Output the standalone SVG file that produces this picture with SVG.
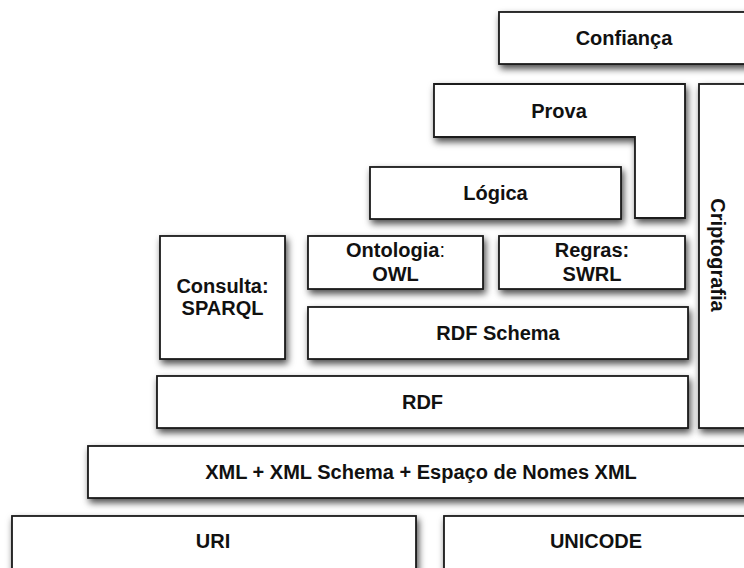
<svg xmlns="http://www.w3.org/2000/svg" width="744" height="568" viewBox="0 0 744 568">
<defs>
<filter id="sh" x="-10%" y="-20%" width="130%" height="160%">
<feDropShadow dx="2" dy="4" stdDeviation="3.5" flood-color="#000" flood-opacity="0.7"/>
</filter>
<style>
.b{fill:#fff;stroke:#1a1a1a;stroke-width:1.8;filter:url(#sh)}
.t{font-family:"Liberation Sans",Arial,Helvetica,sans-serif;font-weight:bold;font-size:20px;fill:#111;text-anchor:middle}
.n{font-weight:normal}
</style>
</defs>
<rect width="744" height="568" fill="#fff"/>
<g id="confianca"><rect class="b" x="499" y="12" width="261" height="52"/><text class="t" x="624" y="45">Confiança</text></g>
<g id="prova"><path class="b" d="M434,84 H685 V218 H635 V137 H434 Z"/><text class="t" x="559" y="118">Prova</text></g>
<g id="criptografia"><rect class="b" x="699" y="84" width="61" height="344"/><text class="t" transform="translate(711,255) rotate(90)" x="0" y="0">Criptografia</text></g>
<g id="logica"><rect class="b" x="370" y="167" width="251" height="52"/><text class="t" x="495.5" y="200">Lógica</text></g>
<g id="consulta"><rect class="b" x="160" y="236" width="125" height="123"/><text class="t" x="222.5" y="293">Consulta:</text><text class="t" x="222.5" y="315">SPARQL</text></g>
<g id="ontologia"><rect class="b" x="308" y="236" width="175" height="53"/><text class="t" x="395.5" y="257">Ontologia<tspan class="n">:</tspan></text><text class="t" x="395.5" y="281">OWL</text></g>
<g id="regras"><rect class="b" x="499" y="236" width="186" height="53"/><text class="t" x="592" y="257">Regras:</text><text class="t" x="592" y="281">SWRL</text></g>
<g id="rdfschema"><rect class="b" x="308" y="307" width="380" height="52"/><text class="t" x="498" y="340">RDF Schema</text></g>
<g id="rdf"><rect class="b" x="157" y="376" width="531" height="52"/><text class="t" x="422.5" y="409">RDF</text></g>
<g id="xml"><rect class="b" x="88" y="446" width="672" height="52"/><text class="t" x="421" y="479">XML + XML Schema + Espaço de Nomes XML</text></g>
<g id="uri"><rect class="b" x="12" y="516" width="404" height="60"/><text class="t" x="213" y="548">URI</text></g>
<g id="unicode"><rect class="b" x="444" y="516" width="316" height="60"/><text class="t" x="596" y="548">UNICODE</text></g>
<g id="connectors"></g>
</svg>
